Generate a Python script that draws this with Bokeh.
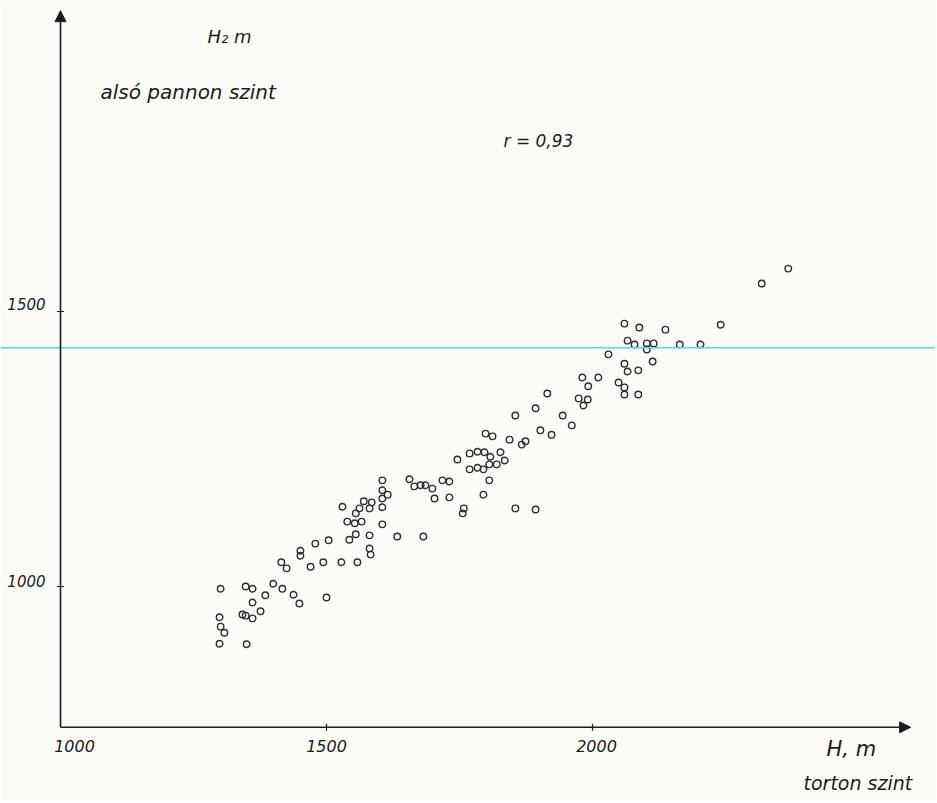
from bokeh.plotting import figure
from bokeh.models import Arrow, NormalHead, Span, Label, ColumnDataSource
from bokeh.core.properties import value
from bokeh.embed import file_html
from bokeh.resources import INLINE

# ---- data ----
h1_torton = [1299, 1350, 1308, 1301, 1299, 1342, 1348, 1361, 1376, 1361,
             1385, 1301, 1348, 1361, 1400, 1417, 1438, 1449, 1500, 1415,
             1425, 1470, 1494, 1528, 1558, 1451, 1451, 1479, 1504, 1543,
             1555, 1581, 1633, 1682, 1581, 1583, 1539, 1553, 1566, 1605,
             1555, 1530, 1562, 1581, 1605, 1570, 1585, 1605, 1615, 1605,
             1605, 1656, 1665, 1677, 1686, 1699, 1718, 1731, 1703, 1731,
             1758, 1756, 1746, 1769, 1784, 1797, 1827, 1808, 1835, 1769,
             1784, 1795, 1806, 1820, 1806, 1795, 1855, 1893, 1799, 1812,
             1844, 1867, 1874, 1855, 1893, 1902, 1923, 1915, 1944, 1961,
             1974, 1991, 1983, 1992, 1981, 2011, 2049, 2060, 2060, 2086,
             2066, 2086, 2060, 2113, 2030, 2066, 2079, 2102, 2115, 2102,
             2164, 2203, 2060, 2088, 2137, 2241, 2318, 2368]
h2_pannon = [896, 895, 916, 927, 944, 949, 947, 942, 955, 971,
             984, 996, 1000, 996, 1005, 996, 985, 969, 980, 1044,
             1033, 1036, 1044, 1044, 1044, 1065, 1056, 1078, 1084, 1085,
             1095, 1093, 1091, 1091, 1069, 1058, 1118, 1115, 1118, 1113,
             1133, 1145, 1142, 1142, 1144, 1155, 1153, 1160, 1167, 1175,
             1193, 1195, 1182, 1184, 1184, 1178, 1193, 1191, 1160, 1162,
             1142, 1133, 1231, 1242, 1245, 1244, 1244, 1236, 1229, 1213,
             1216, 1213, 1222, 1222, 1193, 1167, 1142, 1140, 1278, 1273,
             1267, 1258, 1264, 1311, 1324, 1284, 1276, 1351, 1311, 1293,
             1342, 1340, 1329, 1364, 1380, 1380, 1371, 1362, 1349, 1349,
             1391, 1393, 1405, 1409, 1422, 1447, 1440, 1442, 1442, 1431,
             1440, 1440, 1478, 1471, 1467, 1476, 1551, 1578]
x_ticks = [1000, 1500, 2000]
x_tick_labels = ["1000", "1500", "2000"]
y_ticks = [1000, 1500]
y_tick_labels = ["1000", "1500"]
cyan_level = 1434
corr_text = "r = 0,93"

# ---- styling / layout ----
BG = "#fbfbf8"
INK = "#1c1c1c"
FONT = value("DejaVu Sans")
AX_X = 1000      # where the vertical axis stands
AX_Y = 744       # where the horizontal axis lies
X_END = 2598
Y_TOP = 2047

p = figure(width=935, height=800, x_range=(887.2, 2644.7), y_range=(610.9, 2065.5),
           x_axis_type=None, y_axis_type=None, output_backend="svg",
           toolbar_location=None, min_border=0)
p.grid.visible = False
p.outline_line_color = None
p.background_fill_color = BG
p.border_fill_color = BG

p.add_layout(Span(location=cyan_level, dimension="width",
                  line_color="#5fd4da", line_width=1.6))

# axes with arrows
p.add_layout(Arrow(end=NormalHead(size=11, fill_color=INK, line_color=INK, line_width=1),
                   x_start=AX_X, y_start=AX_Y, x_end=AX_X, y_end=Y_TOP,
                   line_color=INK, line_width=1.6))
p.add_layout(Arrow(end=NormalHead(size=11, fill_color=INK, line_color=INK, line_width=1),
                   x_start=AX_X, y_start=AX_Y, x_end=X_END, y_end=AX_Y,
                   line_color=INK, line_width=1.6))

# tick marks
p.scatter(x=x_ticks[1:], y=[AX_Y] * (len(x_ticks) - 1), marker="dash", angle=1.5708,
          size=7, line_color=INK, line_width=1.2)
p.scatter(x=[AX_X] * len(y_ticks), y=y_ticks, marker="dash", size=7,
          line_color=INK, line_width=1.2)

# tick labels
xs = ColumnDataSource(dict(x=x_ticks, y=[AX_Y] * len(x_ticks), t=x_tick_labels,
                           dx=[14, 0, 4]))
p.text(x="x", y="y", text="t", x_offset="dx", y_offset=19, source=xs,
       text_font=FONT, text_font_style="italic", text_font_size="16px",
       text_align="center", text_baseline="middle", text_color=INK)
ys = ColumnDataSource(dict(x=[AX_X] * len(y_ticks), y=y_ticks, t=y_tick_labels,
                           dy=[-6, -8]))
p.text(x="x", y="y", text="t", x_offset=-15, y_offset="dy", source=ys,
       text_font=FONT, text_font_style="italic", text_font_size="15px",
       text_align="right", text_baseline="middle", text_color=INK)

# points
p.scatter(x=h1_torton, y=h2_pannon, marker="circle", size=6.5, fill_color=None,
          line_color="#2e2e2e", line_width=1.4)

def lab(text, x, y, size):
    p.add_layout(Label(x=x, y=y, x_units="screen", y_units="screen", text=text,
                       text_font="DejaVu Sans", text_font_style="italic",
                       text_font_size=size, text_color=INK, text_baseline="middle"))

lab("H\u2082     m", 207, 764, "18px")
lab("alsó pannon szint", 100, 709, "20px")
lab(corr_text, 503, 660, "17px")
lab("H, m", 826, 52, "21px")
lab("torton szint", 803, 18, "19px")

open("out.html", "w").write(file_html(p, INLINE))
